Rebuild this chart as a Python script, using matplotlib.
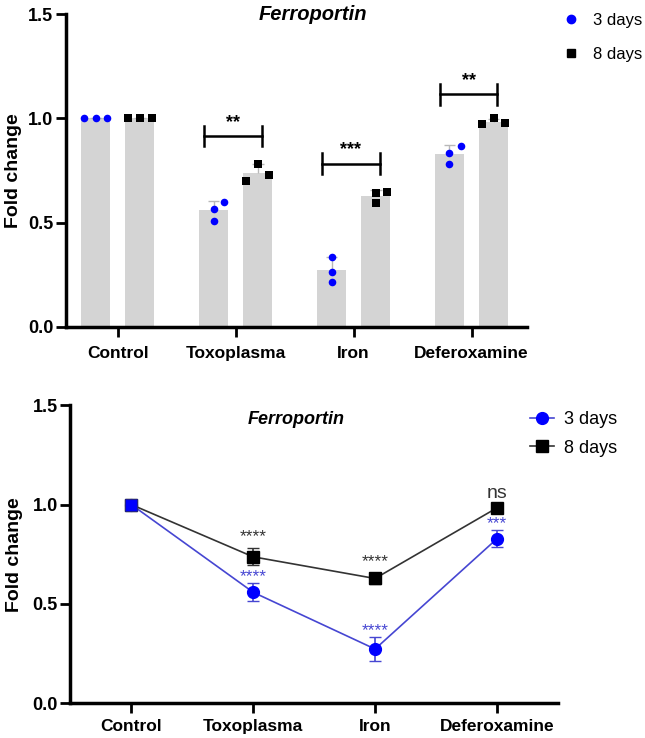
import numpy as np
import matplotlib
matplotlib.use("Agg")
import matplotlib.pyplot as plt
from matplotlib.lines import Line2D

plt.rcParams['font.family'] = ['Liberation Sans', 'DejaVu Sans']

# Data: fold change, three replicates per group
groups = ["Control", "Toxoplasma", "Iron", "Deferoxamine"]
day3_points = [[1.0, 1.0, 1.0],
               [0.567, 0.510, 0.599],
               [0.337, 0.265, 0.217],
               [0.835, 0.782, 0.867]]
day8_points = [[1.0, 1.0, 1.0],
               [0.698, 0.783, 0.730],
               [0.594, 0.642, 0.648],
               [0.971, 1.000, 0.979]]
pair_stars = ["", "**", "***", "**"]   # 3 vs 8 days
day3_stars = ["", "****", "****", "***"]  # vs control
day8_stars = ["", "****", "****", "ns"]

# Style / layout
BLUE = "#0000ff"
BLUE_LINE = "#4646d2"
DARK = "#333333"
BAR = "#d4d4d4"
day3_jit = [[-0.1, 0, 0.1], [0, 0, 0.09], [0, 0, 0], [0, 0, 0.1]]
day8_jit = [[-0.1, 0, 0.1], [-0.1, 0, 0.1], [0, 0, 0.1], [-0.1, 0, 0.1]]
bracket_y = [None, 0.915, 0.782, 1.116]

m3 = np.array([np.mean(p) for p in day3_points])
m8 = np.array([np.mean(p) for p in day8_points])
s3 = np.array([np.std(p, ddof=1) for p in day3_points])
s8 = np.array([np.std(p, ddof=1) for p in day8_points])
x = np.arange(len(groups))


def style_axes(ax, xlim, xpad, label_x):
    for side in ["top", "right"]:
        ax.spines[side].set_visible(False)
    for side in ["left", "bottom"]:
        ax.spines[side].set_linewidth(2.5)
        ax.spines[side].set_color("black")
    ax.set_xlim(*xlim)
    ax.set_ylim(0, 1.5)
    ax.set_yticks([0.0, 0.5, 1.0, 1.5])
    ax.set_yticklabels(["0.0", "0.5", "1.0", "1.5"], fontsize=13, fontweight="bold")
    ax.set_xticks(x)
    ax.set_xticklabels(groups, fontsize=12.5, fontweight="bold")
    ax.tick_params(axis="both", width=2, length=7, color="black")
    ax.tick_params(axis="x", pad=xpad)
    ax.tick_params(axis="y", pad=2)
    ax.set_ylabel("Fold change", fontsize=14, fontweight="bold")
    ax.yaxis.set_label_coords(label_x, 0.5)


fig = plt.figure(figsize=(6.45, 7.38), dpi=100)

# ---------- Top: bar chart with replicate points ----------
ax1 = fig.add_axes([0.102, 0.557, 0.715, 0.424])
style_axes(ax1, (-0.44, 3.47), 7, -0.095)
off, w = 0.187, 0.25
ax1.bar(x - off, m3, width=w, color=BAR, zorder=1)
ax1.bar(x + off, m8, width=w, color=BAR, zorder=1)
for xs, m, s in [(x - off, m3, s3), (x + off, m8, s8)]:
    ax1.vlines(xs, m, m + s, color="#b8b8b8", lw=1, zorder=2)
    ax1.hlines(m + s, xs - 0.05, xs + 0.05, color="#b8b8b8", lw=1, zorder=2)
for i in range(len(groups)):
    ax1.scatter(i - off + np.array(day3_jit[i]), day3_points[i], s=30, marker="o",
                color=BLUE, zorder=3, linewidths=0)
    ax1.scatter(i + off + np.array(day8_jit[i]), day8_points[i], s=30, marker="s",
                color="black", zorder=3, linewidths=0)
    if pair_stars[i]:
        yb = bracket_y[i]
        x1, x2 = i - 0.27, i + 0.22
        ax1.plot([x1, x2], [yb, yb], color="black", lw=1.8)
        ax1.plot([x1, x1], [yb - 0.05, yb + 0.05], color="black", lw=1.8)
        ax1.plot([x2, x2], [yb - 0.05, yb + 0.05], color="black", lw=1.8)
        ax1.text((x1 + x2) / 2, yb + 0.045, pair_stars[i], ha="center", va="baseline",
                 fontsize=13, fontweight="bold")
fig.text(313 / 645, 1 - 15 / 738, "Ferroportin", ha="center", va="center",
         fontsize=14.5, fontweight="bold", style="italic")
h1 = [Line2D([], [], ls="none", marker="o", color=BLUE, ms=6),
      Line2D([], [], ls="none", marker="s", color="black", ms=6)]
fig.legend(h1, ["3 days", "8 days"], loc="upper left", bbox_to_anchor=(0.873, 0.982),
           frameon=False, fontsize=12, labelspacing=1.1, handlelength=0.9,
           handletextpad=0.9, borderpad=0, borderaxespad=0)

# ---------- Bottom: line chart mean +/- SD ----------
ax2 = fig.add_axes([0.109, 0.047, 0.756, 0.404])
style_axes(ax2, (-0.5, 3.5), 4, -0.096)
ax2.errorbar(x, m8, yerr=s8, color=DARK, lw=1.2, marker="s", ms=8.5, mfc="black",
             mec="black", ecolor=DARK, elinewidth=1.2, capsize=4, zorder=3)
ax2.errorbar(x, m3, yerr=s3, color=BLUE_LINE, lw=1.2, marker="o", ms=8.5, mfc=BLUE,
             mec=BLUE, ecolor=BLUE_LINE, elinewidth=1.2, capsize=4, zorder=4)
ax2.plot(x[:1], m3[:1], ls="none", marker="s", ms=8.5, mfc=BLUE, mec="#20208a", mew=0.8,
         zorder=5)
for i in range(len(groups)):
    if day8_stars[i]:
        fs = 14 if day8_stars[i] == "ns" else 12.5
        ax2.text(i, m8[i] + s8[i] + 0.035, day8_stars[i], ha="center", va="baseline",
                 fontsize=fs, color=DARK)
    if day3_stars[i]:
        ax2.text(i, m3[i] + s3[i] + 0.01, day3_stars[i], ha="center", va="baseline",
                 fontsize=12.5, color=BLUE_LINE)
fig.text(296 / 645, 1 - 419 / 738, "Ferroportin", ha="center", va="center",
         fontsize=13, fontweight="bold", style="italic")
h2 = [Line2D([], [], color=BLUE_LINE, lw=1.2, marker="o", ms=8.5, mfc=BLUE, mec=BLUE),
      Line2D([], [], color=DARK, lw=1.2, marker="s", ms=8.5, mfc="black", mec="black")]
fig.legend(h2, ["3 days", "8 days"], loc="upper left", bbox_to_anchor=(0.822, 0.443),
           frameon=False, fontsize=13, labelspacing=0.65, handlelength=1.3,
           handletextpad=0.6, borderpad=0, borderaxespad=0)

fig.savefig("out.png", dpi=100)
